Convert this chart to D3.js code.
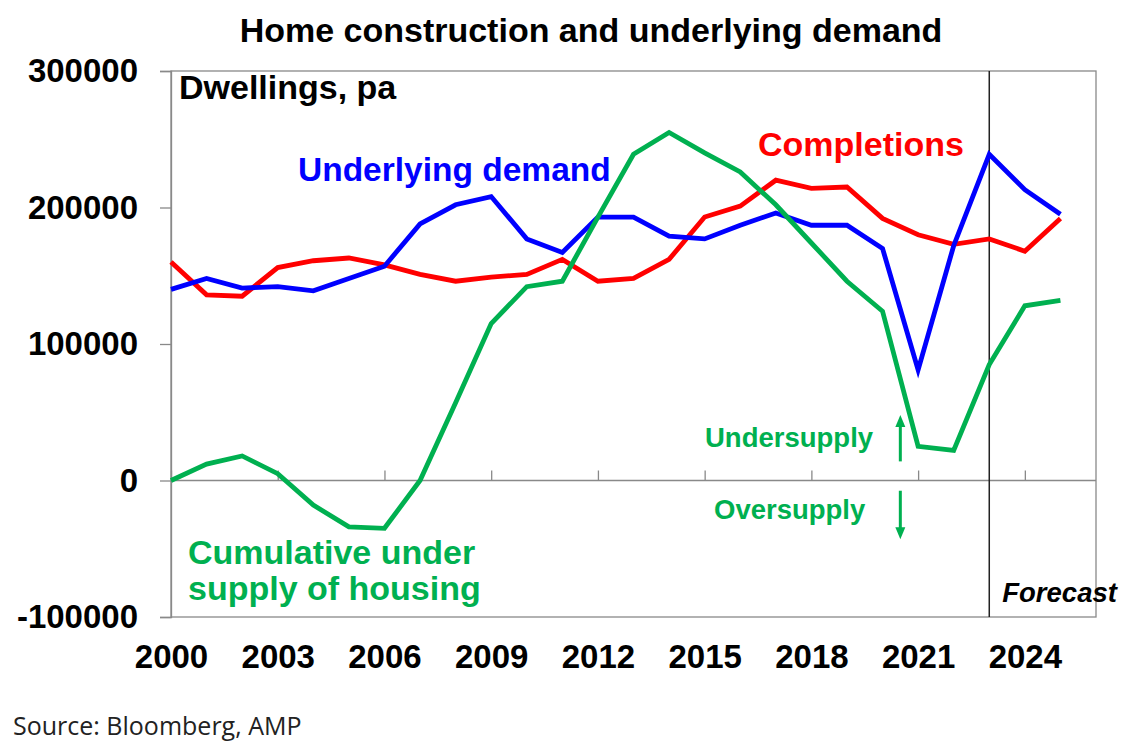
<!DOCTYPE html>
<html>
<head>
<meta charset="utf-8">
<script src="https://cdn.jsdelivr.net/npm/d3@7.9.0/dist/d3.min.js"></script>
<style>
  body { margin: 0; background: #fff; }
  svg { display: block; font-family: "Liberation Sans", Arial, sans-serif; }
</style>
</head>
<body>
<svg id="chart" width="1147" height="755"></svg>
<script>
// years on the x axis
const years = d3.range(2000, 2026);

// dwellings per year
const underlyingDemand = [140000, 148000, 141000, 142000, 139000, 148000, 157000, 188000, 202000, 208000,
  177000, 167000, 193000, 193000, 179000, 177000, 187000, 196000, 187000, 187000,
  170000, 81000, 172000, 239000, 213000, 195000];
const completions = [160000, 136000, 135000, 156000, 161000, 163000, 158000, 151000, 146000, 149000,
  151000, 162000, 146000, 148000, 162000, 193000, 201000, 220000, 214000, 215000,
  192000, 180000, 173000, 177000, 168000, 192000];
const cumulativeUndersupply = [0, 12000, 18000, 5000, -18000, -34000, -35000, 0, 57000, 115000,
  142000, 146000, 193000, 239000, 255000, 240000, 226000, 202000, 174000, 146000,
  124000, 25000, 22000, 85000, 128000, 132000];

const yTicks = [-100000, 0, 100000, 200000, 300000];
const xTicks = [2000, 2003, 2006, 2009, 2012, 2015, 2018, 2021, 2024];
const forecastStart = 2023;

const width = 1147;
const height = 755;
const margin = { top: 71, right: 51, bottom: 138, left: 171 };
const plot = {
  left: margin.left,
  right: width - margin.right,
  top: margin.top,
  bottom: height - margin.bottom,
};

const gray = "#898989";

const svg = d3.select("#chart");

const x = d3.scaleLinear().domain([2000, 2026]).range([plot.left, plot.right]);
const y = d3.scaleLinear().domain([-100000, 300000]).range([plot.bottom, plot.top]);

// title
svg.append("text")
  .attr("x", 591)
  .attr("y", 42)
  .attr("text-anchor", "middle")
  .style("font-size", "34px")
  .style("font-weight", "bold")
  .text("Home construction and underlying demand");

// plot frame
svg.append("rect")
  .attr("x", plot.left)
  .attr("y", plot.top)
  .attr("width", plot.right - plot.left)
  .attr("height", plot.bottom - plot.top)
  .attr("fill", "none")
  .attr("stroke", gray)
  .attr("stroke-width", 1.3);

// y axis
const yAxis = svg.append("g")
  .attr("transform", `translate(${plot.left},0)`)
  .call(d3.axisLeft(y).tickValues(yTicks).tickSize(11).tickPadding(22).tickFormat((d) => String(d)));
yAxis.select(".domain").attr("stroke", gray).attr("stroke-width", 1.3);
yAxis.selectAll(".tick line").attr("stroke", gray).attr("stroke-width", 1.3);
yAxis.selectAll(".tick text")
  .attr("fill", "#000")
  .style("font-size", "33px")
  .style("font-weight", "bold")
  .style("font-family", "'Liberation Sans', Arial, sans-serif");

// zero line with small upward ticks
svg.append("line")
  .attr("x1", plot.left)
  .attr("x2", plot.right)
  .attr("y1", y(0))
  .attr("y2", y(0))
  .attr("stroke", gray)
  .attr("stroke-width", 1.3);

const zeroAxis = svg.append("g")
  .attr("transform", `translate(0,${y(0)})`)
  .call(d3.axisTop(x).tickValues(xTicks).tickSize(10).tickFormat(""));
zeroAxis.select(".domain").remove();
zeroAxis.selectAll(".tick line").attr("stroke", gray).attr("stroke-width", 1.3);

// x labels under the plot
const xAxis = svg.append("g")
  .attr("transform", `translate(0,${plot.bottom})`)
  .call(d3.axisBottom(x).tickValues(xTicks).tickSize(0).tickPadding(28).tickFormat((d) => String(d)));
xAxis.select(".domain").remove();
xAxis.selectAll(".tick text")
  .attr("fill", "#000")
  .style("font-size", "33px")
  .style("font-weight", "bold")
  .style("font-family", "'Liberation Sans', Arial, sans-serif");

// forecast divider
svg.append("line")
  .attr("x1", x(forecastStart))
  .attr("x2", x(forecastStart))
  .attr("y1", plot.top)
  .attr("y2", plot.bottom)
  .attr("stroke", "#222")
  .attr("stroke-width", 1.5);

svg.append("text")
  .attr("x", x(forecastStart) + 13)
  .attr("y", 602)
  .style("font-size", "27.5px")
  .style("font-weight", "bold")
  .style("font-style", "italic")
  .text("Forecast");

// series lines
const line = d3.line()
  .x((d, i) => x(years[i]))
  .y((d) => y(d));

const series = [
  { name: "Completions", values: completions, color: "#ff0000" },
  { name: "Underlying demand", values: underlyingDemand, color: "#0000ff" },
  { name: "Cumulative under supply", values: cumulativeUndersupply, color: "#00b050" },
];

svg.append("g")
  .selectAll("path")
  .data(series)
  .join("path")
  .attr("d", (d) => line(d.values))
  .attr("fill", "none")
  .attr("stroke", (d) => d.color)
  .attr("stroke-width", 4.8)
  .attr("stroke-linejoin", "miter");

// labels
svg.append("text")
  .attr("x", 179)
  .attr("y", 99)
  .style("font-size", "34px")
  .style("font-weight", "bold")
  .text("Dwellings, pa");

svg.append("text")
  .attr("x", 298)
  .attr("y", 181)
  .attr("fill", "#0000ff")
  .style("font-size", "33.5px")
  .style("font-weight", "bold")
  .text("Underlying demand");

svg.append("text")
  .attr("x", 758)
  .attr("y", 156)
  .attr("fill", "#ff0000")
  .style("font-size", "34px")
  .style("font-weight", "bold")
  .text("Completions");

const cumLabel = svg.append("text")
  .attr("x", 188)
  .attr("fill", "#00b050")
  .style("font-size", "34px")
  .style("font-weight", "bold");
cumLabel.append("tspan").attr("x", 188).attr("y", 564).text("Cumulative under");
cumLabel.append("tspan").attr("x", 188).attr("y", 600).text("supply of housing");

svg.append("text")
  .attr("x", 705)
  .attr("y", 447)
  .attr("fill", "#00b050")
  .style("font-size", "27.5px")
  .style("font-weight", "bold")
  .text("Undersupply");

svg.append("text")
  .attr("x", 714)
  .attr("y", 519)
  .attr("fill", "#00b050")
  .style("font-size", "27.5px")
  .style("font-weight", "bold")
  .text("Oversupply");

// arrows
function arrow(xv, fromV, toV) {
  const ax = x(xv);
  const y0 = y(fromV);
  const y1 = y(toV);
  const dir = y1 < y0 ? -1 : 1;
  const g = svg.append("g").attr("fill", "#00b050").attr("stroke", "#00b050");
  g.append("line")
    .attr("x1", ax).attr("x2", ax)
    .attr("y1", y0).attr("y2", y1 - dir * 10)
    .attr("stroke-width", 3);
  g.append("path")
    .attr("stroke", "none")
    .attr("d", `M${ax},${y1} L${ax - 5},${y1 - dir * 12} L${ax + 5},${y1 - dir * 12} Z`);
}
arrow(2020.5, 14000, 48000);
arrow(2020.5, -7500, -43000);

// source
svg.append("text")
  .attr("x", 13)
  .attr("y", 735)
  .style("font-family", "'Open Sans', 'Noto Sans', sans-serif")
  .style("font-size", "25px")
  .attr("fill", "#222")
  .text("Source: Bloomberg, AMP");
</script>
</body>
</html>
